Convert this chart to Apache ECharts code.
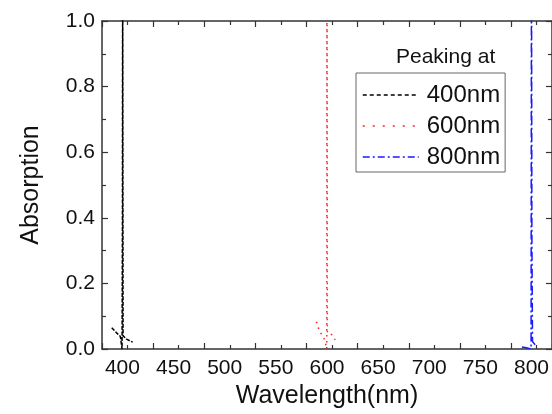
<!DOCTYPE html>
<html>
<head>
<meta charset="utf-8">
<script src="https://cdn.jsdelivr.net/npm/echarts@6/dist/echarts.min.js"></script>
<style>
  html, body { margin: 0; padding: 0; background: #fff; }
  #chart { width: 552px; height: 414px; }
</style>
</head>
<body>
<div id="chart"></div>
<script>
// peaks (x in nm, y in absorption)
const seriesNames = ["400nm", "600nm", "800nm"];
const wl400 = [389.5, 394, 398, 399.6, 400, 400.2, 400.4, 400.6, 404, 410];
const abs400 = [0.065, 0.05, 0.038, 0.0, 0.4, 1.3, 1.3, 0.04, 0.03, 0.021];
const wl600 = [589.7, 592.5, 597.8, 599.8, 600, 600.2, 600.4, 603.3, 608];
const abs600 = [0.083, 0.056, 0.028, 0.0, 1.3, 1.3, 0.05, 0.049, 0.028];
const wl800 = [790.6, 795, 799.6, 800, 800.2, 800.4, 801, 803, 805];
const abs800 = [0.006, 0.004, 0.0, 1.3, 1.3, 0.35, 0.023, 0.015, 0.008];
const xTicks = [400, 450, 500, 550, 600, 650, 700, 750, 800];

const colors = ["#000000", "#ff2020", "#1a1aff"];
const dashes = [[4, 1.5], [1.5, 4.5], [9, 3, 2, 3]];
const legendDashes = [[4, 3], [2, 8], [7, 3, 2, 3]];

function pairs(xs, ys) {
  return xs.map((x, i) => [x, ys[i]]);
}

const chart = echarts.init(document.getElementById("chart"));
const font = "Liberation Sans, Arial, sans-serif";
const axisLine = { lineStyle: { color: "#333", width: 1.5 } };

function xAxisBase(pos, show) {
  return {
    type: "value",
    position: pos,
    min: 380,
    max: 820,
    interval: 50,
    axisLine: Object.assign({ onZero: false }, axisLine),
    axisTick: { inside: true, length: 6, lineStyle: { color: "#333", width: 1.2 } },
    minorTick: { show: true, splitNumber: 2, length: 4, lineStyle: { color: "#333", width: 1.2 } },
    splitLine: { show: false },
    axisLabel: {
      show: show,
      fontSize: 21,
      fontFamily: font,
      color: "#111",
      margin: 9,
      customValues: xTicks
    }
  };
}

function yAxisBase(pos, show) {
  return {
    type: "value",
    position: pos,
    min: 0,
    max: 1,
    interval: 0.2,
    axisLine: Object.assign({ onZero: false }, axisLine),
    axisTick: { inside: true, length: 6, lineStyle: { color: "#333", width: 1.2 } },
    minorTick: { show: true, splitNumber: 2, length: 4, lineStyle: { color: "#333", width: 1.2 } },
    splitLine: { show: false },
    axisLabel: {
      show: show,
      fontSize: 21,
      fontFamily: font,
      color: "#111",
      margin: 7,
      formatter: v => v.toFixed(1)
    }
  };
}

const bottomX = xAxisBase("bottom", true);
bottomX.name = "Wavelength(nm)";
bottomX.nameLocation = "middle";
bottomX.nameGap = 34;
bottomX.nameTextStyle = { fontSize: 25, fontFamily: font, color: "#111" };

const leftY = yAxisBase("left", true);
leftY.name = "Absorption";
leftY.nameLocation = "middle";
leftY.nameGap = 58;
leftY.nameTextStyle = { fontSize: 25, fontFamily: font, color: "#111" };

const seriesData = [pairs(wl400, abs400), pairs(wl600, abs600), pairs(wl800, abs800)];

const option = {
  animation: false,
  backgroundColor: "#fff",
  grid: { left: 102, top: 21, right: -1, bottom: 65, containLabel: false },
  title: {
    text: "Peaking at",
    left: 391,
    top: 42,
    textStyle: { fontSize: 21, fontWeight: "normal", fontFamily: font, color: "#111" }
  },
  legend: {
    orient: "vertical",
    left: 356,
    top: 73,
    padding: [10, 5, 3, 6],
    itemWidth: 56,
    itemHeight: 24,
    itemGap: 7,
    borderColor: "#666",
    borderWidth: 1,
    backgroundColor: "#fff",
    textStyle: { fontSize: 24, fontFamily: font, color: "#111", padding: [0, 0, 0, 3] },
    data: seriesNames.map((n, i) => ({
      name: n,
      itemStyle: { opacity: 0 },
      lineStyle: { color: colors[i], width: 1.5, type: legendDashes[i] }
    }))
  },
  xAxis: [bottomX, xAxisBase("top", false)],
  yAxis: [leftY, yAxisBase("right", false)],
  series: seriesNames.map((n, i) => ({
    name: n,
    type: "line",
    data: seriesData[i],
    showSymbol: false,
    symbol: "none",
    clip: true,
    lineStyle: { color: colors[i], width: 1.5, type: dashes[i] },
    itemStyle: { color: colors[i] }
  }))
};

chart.setOption(option);
</script>
</body>
</html>
